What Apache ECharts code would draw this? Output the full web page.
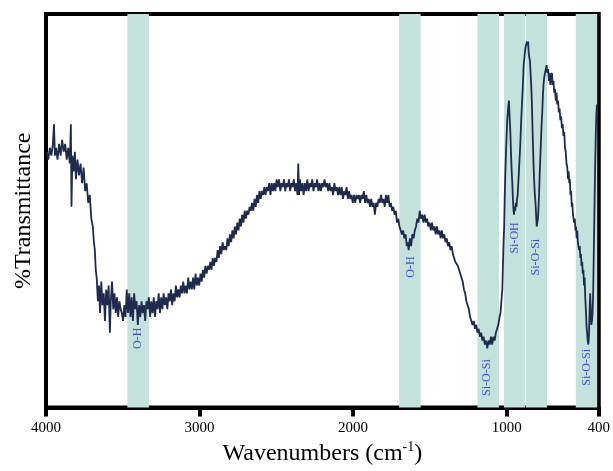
<!DOCTYPE html>
<html>
<head>
<meta charset="utf-8">
<title>FTIR spectrum</title>
<script src="https://cdn.jsdelivr.net/npm/echarts@6/dist/echarts.min.js"></script>
<style>
  html, body { margin: 0; padding: 0; background: #fff; }
  #chart { width: 613px; height: 471px; }
</style>
</head>
<body>
<div id="chart"></div>
<script>
// Wavenumber (cm-1) and transmittance (arbitrary %) of the measured spectrum
const wavenumbers = [
  3995,3985,3975,3965,3955,3948,3942,3935,3925,3915,3905,3895,3885,3875,3865,3855,3845,3838,3834,3828,
  3820,3812,3805,3795,3785,3775,3765,3755,3745,3735,3725,3715,3705,3695,3688,3682,3676,3670,3662,3655,
  3648,3640,3632,3624,3616,3608,3600,3592,3584,3578,3570,3562,3554,3546,3538,3530,3522,3514,3506,3498,
  3490,3482,3474,3466,3458,3450,3442,3434,3426,3418,3410,3402,3394,3386,3378,3370,3362,3354,3346,3338,
  3330,3322,3314,3306,3298,3290,3282,3274,3266,3258,3250,3242,3234,3226,3218,3210,3202,3194,3186,3178,
  3170,3162,3154,3146,3138,3130,3122,3114,3106,3098,3090,3082,3074,3066,3058,3050,3042,3034,3026,3018,
  3010,3002,2994,2986,2978,2970,2962,2954,2946,2938,2930,2922,2914,2906,2898,2890,2882,2874,2866,2858,
  2850,2842,2834,2826,2818,2810,2802,2794,2786,2778,2770,2762,2754,2746,2738,2730,2722,2714,2706,2698,
  2690,2682,2674,2666,2658,2650,2642,2634,2626,2618,2610,2602,2594,2586,2578,2570,2562,2554,2546,2538,
  2530,2522,2514,2506,2498,2490,2482,2474,2466,2458,2450,2442,2434,2426,2418,2410,2402,2394,2386,2378,
  2370,2362,2357,2352,2346,2338,2330,2322,2314,2306,2298,2290,2282,2274,2266,2258,2250,2242,2234,2226,
  2218,2210,2202,2194,2186,2178,2170,2162,2154,2146,2138,2130,2122,2114,2106,2098,2090,2082,2074,2066,
  2058,2050,2042,2034,2026,2018,2010,2002,1994,1986,1978,1970,1962,1954,1946,1938,1930,1922,1914,1906,
  1898,1890,1882,1874,1866,1858,1850,1842,1834,1826,1818,1810,1802,1794,1786,1778,1770,1762,1754,1746,
  1738,1730,1722,1714,1706,1698,1690,1682,1674,1666,1658,1650,1644,1638,1630,1622,1614,1606,1598,1590,
  1582,1574,1566,1558,1550,1542,1534,1526,1518,1510,1502,1494,1486,1478,1470,1462,1454,1446,1438,1430,
  1422,1414,1406,1398,1390,1382,1374,1366,1358,1350,1342,1334,1326,1318,1310,1302,1294,1286,1278,1270,
  1262,1254,1246,1238,1230,1222,1214,1206,1198,1190,1182,1174,1166,1158,1150,1142,1134,1126,1118,1110,
  1102,1094,1086,1078,1070,1062,1054,1046,1040,1034,1028,1024,1020,1016,1012,1008,1004,1000,996,992,
  988,985,982,978,975,971,967,963,959,955,952,948,944,940,936,932,928,924,920,916,
  912,908,904,899,894,889,884,879,874,868,864,860,856,852,848,844,840,836,832,828,
  824,820,816,812,808,804,800,796,792,788,784,780,776,772,768,764,760,755,750,745,
  740,735,730,725,720,715,710,705,700,695,690,685,680,675,670,665,660,655,650,645,
  640,635,630,625,620,615,610,605,600,596,592,588,584,580,576,572,568,564,560,556,
  552,548,544,540,536,532,528,524,520,516,512,508,504,500,496,492,488,484,480,476,
  472,468,464,460,456,452,448,444,440,436,432,428,424,420,416,412
];
const transmittance = [
  65,63,66,64,67,72,64,66,63,67,64,68,65,67,63,66,62,72,51,64,
  60,65,58,63,59,62,57,61,55,57,52,54,48,46,42,40,35,33,27,31,
  24,32,26,29,22,30,26,31,19,27,32,25,29,24,28,23,27,25,24,22,
  26,23,30,24,29,23,28,22,29,25,27,21,26,23,27,24,26,22,27,25,
  28,23,27,24,28,23,27,25,29,24,28,25,29,26,28,25,29,27,30,26,
  29,27,31,28,30,28,31,29,32,29,31,29,33,30,32,30,33,30,34,31,
  33,31,34,32,35,33,36,34,36,35,37,35,38,36,38,37,40,38,41,39,
  42,40,41,40,43,41,44,42,45,43,46,44,47,45,48,46,49,47,50,48,
  50,49,51,50,52,50,53,51,54,52,55,53,55,54,56,54,56,55,57,54,
  57,55,57,55,58,56,58,55,57,56,58,55,57,56,58,55,57,56,58,55,
  57,54,62,54,58,55,57,54,57,55,58,55,57,56,58,55,57,56,58,55,
  57,55,57,56,58,56,57,55,57,55,56,54,57,55,56,54,56,54,56,53,
  55,54,56,53,55,53,54,52,54,52,54,53,54,52,54,53,55,52,54,52,
  53,51,53,51,52,49,52,51,53,52,54,52,53,51,54,52,54,51,52,50,
  51,49,50,47,48,46,46,44,45,43,44,41,42,40,43,41,44,43,45,46,
  48,47,50,48,49,47,49,47,48,46,47,45,47,45,46,44,46,44,45,43,
  45,43,44,42,43,41,42,40,41,39,39,37,37,36,35,35,33,32,30,29,
  27,26,25,23,23,21,22,20,21,19,20,18,19,17,18,16,17,15,17,16,
  18,16,18,17,19,19,21,23,24,27,30,36,42,46,54,60,65,69,73,75,
  77,78,75,72,69,64,60,57,53,50,49,51,50,52,51,53,54,57,60,63,
  66,70,74,78,82,87,89,91,92,93,92,93,90,89,88,85,82,78,72,66,
  61,57,54,52,49,46,47,48,51,55,60,64,68,72,75,79,82,84,85,86,
  87,85,86,83,85,82,84,85,82,83,80,81,78,80,77,78,75,76,73,74,
  71,72,69,70,66,65,62,61,58,60,57,58,54,55,51,52,49,49,47,48,
  45,46,43,45,42,42,40,41,38,39,36,37,34,35,31,33,28,25,21,19,
  17,16,18,24,29,25,21,22,24,30,40,50,60,68,74,77
];

// Absorption bands: [from, to] in cm-1 and their assignments
const bandRanges = [[3470, 3330], [1700, 1560], [1190, 1050], [1018, 880], [875, 737], [550, 410]];
const bandNames = ['O-H', 'O-H', 'Si-O-Si', 'Si-OH', 'Si-O-Si', 'Si-O-Si'];
// Label anchor for each band: wavenumber and transmittance
const bandLabelAt = [[3400, 17.6], [1625, 35.7], [1126, 7.6], [944, 43.1], [808, 38.2], [478, 10.2]];

const xTicks = [4000, 3000, 2000, 1000, 400];

const chart = echarts.init(document.getElementById('chart'), null, { renderer: 'canvas' });

const seriesData = wavenumbers.map((w, i) => [w, transmittance[i]]);
const serif = '"Liberation Serif", "Times New Roman", serif';

chart.setOption({
  animation: false,
  backgroundColor: '#ffffff',
  grid: {
    left: 46, right: 8.5, top: 14, bottom: 63.5,
    show: true, borderColor: '#000', borderWidth: 4, backgroundColor: 'transparent'
  },
  xAxis: {
    type: 'value',
    min: 400, max: 4000,
    inverse: true,
    name: 'Wavenumbers (cm{sup|-1})',
    nameLocation: 'middle',
    nameGap: 33,
    nameTextStyle: {
      fontFamily: serif, fontSize: 24, color: '#000',
      rich: { sup: { fontFamily: serif, fontSize: 14, color: '#000', padding: [0, 0, 12, 0] } }
    },
    axisLine: { show: true, onZero: false, lineStyle: { color: '#000', width: 4 } },
    axisTick: { show: true, length: 9, inside: false, customValues: xTicks, lineStyle: { color: '#000', width: 4 } },
    axisLabel: {
      show: true, customValues: xTicks, margin: 13,
      formatter: v => String(v),
      fontFamily: serif, fontSize: 15, color: '#000'
    },
    splitLine: { show: false }
  },
  yAxis: {
    type: 'value',
    min: 0, max: 100,
    name: '%Transmittance',
    nameLocation: 'middle',
    nameGap: 10,
    nameTextStyle: { fontFamily: serif, fontSize: 24, color: '#000' },
    axisLine: { show: true, lineStyle: { color: '#000', width: 4 } },
    axisTick: { show: false },
    axisLabel: { show: false },
    splitLine: { show: false }
  },
  series: [
    {
      name: 'bands',
      type: 'line',
      data: [],
      z: 1,
      silent: true,
      markArea: {
        silent: true,
        itemStyle: { color: '#c5e1dc', opacity: 1 },
        data: bandRanges.map(r => [{ xAxis: r[0] }, { xAxis: r[1] }])
      }
    },
    {
      name: 'spectrum',
      type: 'line',
      data: seriesData,
      z: 3,
      symbol: 'none',
      smooth: false,
      lineStyle: { color: '#1f2b4d', width: 1.8 }
    },
    {
      name: 'assignments',
      type: 'scatter',
      z: 4,
      symbolSize: 0,
      silent: true,
      data: bandLabelAt.map((p, i) => ({ value: p, name: bandNames[i] })),
      label: {
        show: true,
        position: 'inside',
        rotate: 90,
        formatter: p => p.name,
        fontFamily: serif,
        fontSize: 12,
        color: '#2020d0'
      }
    }
  ]
});
</script>
</body>
</html>
